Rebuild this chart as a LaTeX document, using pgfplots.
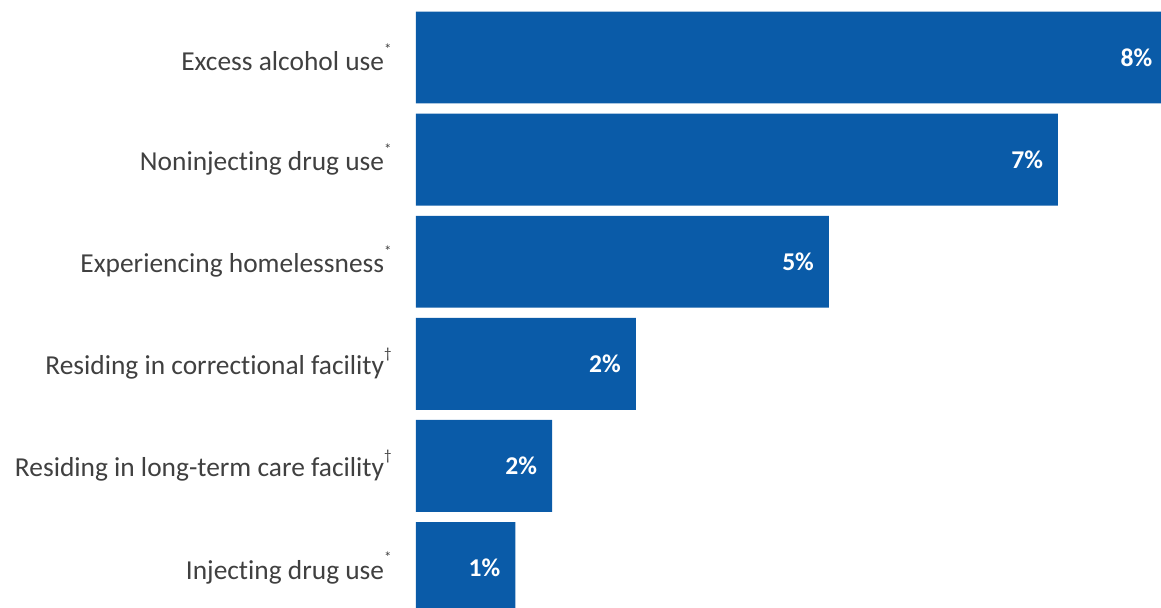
\documentclass[border=0pt]{standalone}
\usepackage{pgfplots}
\pgfplotsset{compat=1.18}
\usepackage{fontspec}
\setmainfont[Ligatures={NoCommon}]{Carlito}
\definecolor{barblue}{RGB}{10,91,168}
\definecolor{labgray}{RGB}{64,64,64}
\newcommand{\supmark}[1]{\raisebox{0.6em}{\fontsize{7.5}{7.5}\selectfont #1}}
\begin{document}
\begin{tikzpicture}
\begin{axis}[
  scale only axis,
  width=372.5pt, height=303.5pt,
  xmin=0, xmax=8.1,
  ymin=-0.563, ymax=5.382,
  y dir=reverse,
  clip=false,
  xbar, bar width=0.9,
  axis line style={draw=none},
  major tick length=0pt,
  xtick=\empty,
  ytick={0,1,2,3,4,5},
  yticklabels={
    Excess alcohol use\supmark{*},
    Noninjecting drug use\supmark{*},
    Experiencing homelessness\supmark{*},
    Residing in correctional facility\supmark{\textdagger},
    Residing in long-term care facility\supmark{\textdagger},
    Injecting drug use\supmark{*}},
  yticklabel style={inner sep=0pt, anchor=east, xshift=-12pt,
    font=\fontsize{13.7}{16}\selectfont, text=labgray},
  point meta=explicit symbolic,
  nodes near coords={\pgfplotspointmeta\%},
  nodes near coords style={anchor=east, xshift=-4pt, text=white,
    font=\fontsize{12.8}{15}\selectfont\bfseries},
]
\addplot[fill=barblue, draw=none] coordinates {
  (8.17,0) [8]
  (6.98,1) [7]
  (4.49,2) [5]
  (2.39,3) [2]
  (1.48,4) [2]
  (1.08,5) [1]
};
\end{axis}
\pgfresetboundingbox
\path[use as bounding box] ([xshift=-208pt]current axis.south west) rectangle (current axis.north east);
\end{tikzpicture}
\end{document}
